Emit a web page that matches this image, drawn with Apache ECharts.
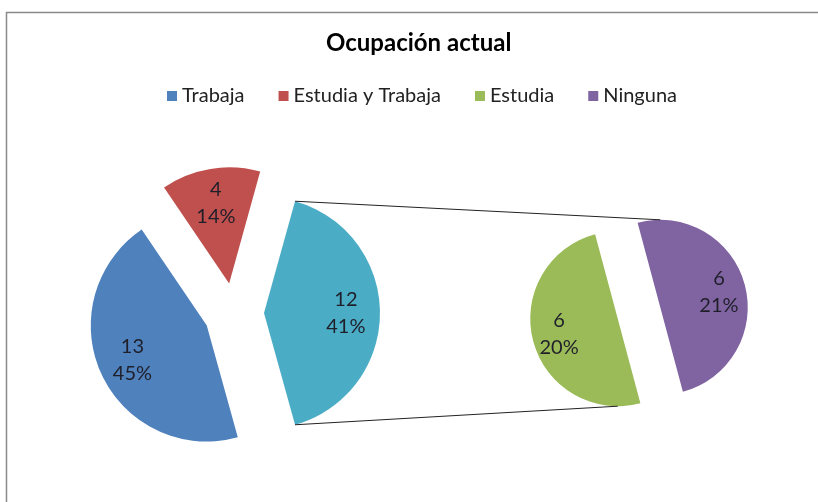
<!DOCTYPE html>
<html>
<head>
<meta charset="utf-8">
<title>Ocupación actual</title>
<script src="https://cdn.jsdelivr.net/npm/echarts@6/dist/echarts.min.js"></script>
<style>
  html, body { margin: 0; padding: 0; background: #fff; }
  #chart { width: 818px; height: 502px; }
</style>
</head>
<body>
<div id="chart"></div>
<script>
// datos
const mainCats = ['Trabaja', 'Estudia y Trabaja', 'Otro'];
const mainValues = [13, 4, 12];
const mainPercents = ['45%', '14%', '41%'];
const subCats = ['Estudia', 'Ninguna'];
const subValues = [6, 6];
const subPercents = ['20%', '21%'];
const legendNames = ['Trabaja', 'Estudia y Trabaja', 'Estudia', 'Ninguna'];

const mainColors = ['#4F81BD', '#C0504D', '#4BACC6'];
const subColors = ['#9BBB59', '#8064A2'];

// geometria de los dos pasteles
const mainCenter = [234, 313], mainR = 116, mainOff = 30;
const subCenter = [639, 313], subR = 87.5, subOff = 22;
const mainLabelK = 0.68, subLabelK = 0.66;   // distancia de la etiqueta / radio
const mainTotal = mainValues.reduce((a, b) => a + b, 0);
const otherHalf = 360 * mainValues[2] / mainTotal / 2;
const mainStart = 360 - otherHalf;
const subStart = 285;

const rad = d => d * Math.PI / 180;

// angulo medio de cada porcion (sentido horario desde startAngle)
function midAngles(values, start) {
  const total = values.reduce((a, b) => a + b, 0);
  let a = start;
  return values.map(v => {
    const span = 360 * v / total;
    const mid = a - span / 2;
    a -= span;
    return mid;
  });
}
const mainMids = midAngles(mainValues, mainStart);
const subMids = midAngles(subValues, subStart);

function apex(center, off, mid) {
  return [center[0] + off * Math.cos(rad(mid)), center[1] - off * Math.sin(rad(mid))];
}

// lineas de union
const otherApex = apex(mainCenter, mainOff, mainMids[2]);
const topA = [otherApex[0] + mainR * Math.cos(rad(otherHalf)), otherApex[1] - mainR * Math.sin(rad(otherHalf))];
const botA = [otherApex[0] + mainR * Math.cos(rad(-otherHalf)), otherApex[1] - mainR * Math.sin(rad(-otherHalf))];
const ningApex = apex(subCenter, subOff, subMids[1]);
const estApex = apex(subCenter, subOff, subMids[0]);
const topB = [ningApex[0], ningApex[1] - subR];
const botB = [estApex[0], estApex[1] + subR];

const labelFont = { fontFamily: 'Lato', fontSize: 20, color: '#1f1f2a', lineHeight: 27 };

function pieSeries(cats, values, colors, center, r, start, off) {
  return {
    type: 'pie',
    center: center,
    radius: [0, r],
    startAngle: start,
    clockwise: true,
    selectedMode: 'multiple',
    selectedOffset: off,
    emphasis: { disabled: true },
    label: { show: false },
    labelLine: { show: false },
    data: cats.map((c, i) => ({
      name: c, value: values[i], selected: true,
      itemStyle: { color: colors[i] }
    }))
  };
}
// pastel transparente mas grande: sus etiquetas 'inside' quedan a k*r
function labelSeries(cats, values, percents, center, r, start, off, k) {
  return {
    type: 'pie',
    center: center,
    radius: [0, 2 * k * r],
    startAngle: start,
    clockwise: true,
    silent: true,
    selectedMode: 'multiple',
    selectedOffset: off,
    z: 5,
    itemStyle: { color: 'rgba(0,0,0,0)' },
    label: Object.assign({
      position: 'inside',
      formatter: p => p.value + '\n' + percents[p.dataIndex]
    }, labelFont),
    data: cats.map((c, i) => ({ name: c, value: values[i], selected: true }))
  };
}

let chart = echarts.init(document.getElementById('chart'));
let option = {
  animation: false,
  title: {
    text: 'Ocupación actual',
    left: 326,
    top: 31,
    padding: 0,
    textStyle: { fontFamily: 'Lato', fontSize: 24, fontWeight: 'bold', color: '#000' }
  },
  legend: {
    data: legendNames,
    left: 167,
    top: 86,
    padding: 0,
    icon: 'rect',
    itemWidth: 10,
    itemHeight: 10,
    itemGap: 34,
    selectedMode: false,
    textStyle: { fontFamily: 'Lato', fontSize: 20, color: '#222' }
  },
  series: [
    pieSeries(mainCats, mainValues, mainColors, mainCenter, mainR, mainStart, mainOff),
    pieSeries(subCats, subValues, subColors, subCenter, subR, subStart, subOff),
    labelSeries(mainCats, mainValues, mainPercents, mainCenter, mainR, mainStart, mainOff, mainLabelK),
    labelSeries(subCats, subValues, subPercents, subCenter, subR, subStart, subOff, subLabelK)
  ],
  graphic: [
    { type: 'line', shape: { x1: topA[0], y1: topA[1], x2: topB[0], y2: topB[1] }, style: { stroke: '#222', lineWidth: 1 }, z: 10 },
    { type: 'line', shape: { x1: botA[0], y1: botA[1], x2: botB[0], y2: botB[1] }, style: { stroke: '#222', lineWidth: 1 }, z: 10 },
    // borde del area del grafico
    { type: 'line', shape: { x1: 6, y1: 12.5, x2: 818, y2: 12.5 }, style: { stroke: '#8a8a8a', lineWidth: 1.5 } },
    { type: 'line', shape: { x1: 6.5, y1: 12, x2: 6.5, y2: 502 }, style: { stroke: '#8a8a8a', lineWidth: 1.5 } }
  ]
};
chart.setOption(option);
</script>
</body>
</html>
